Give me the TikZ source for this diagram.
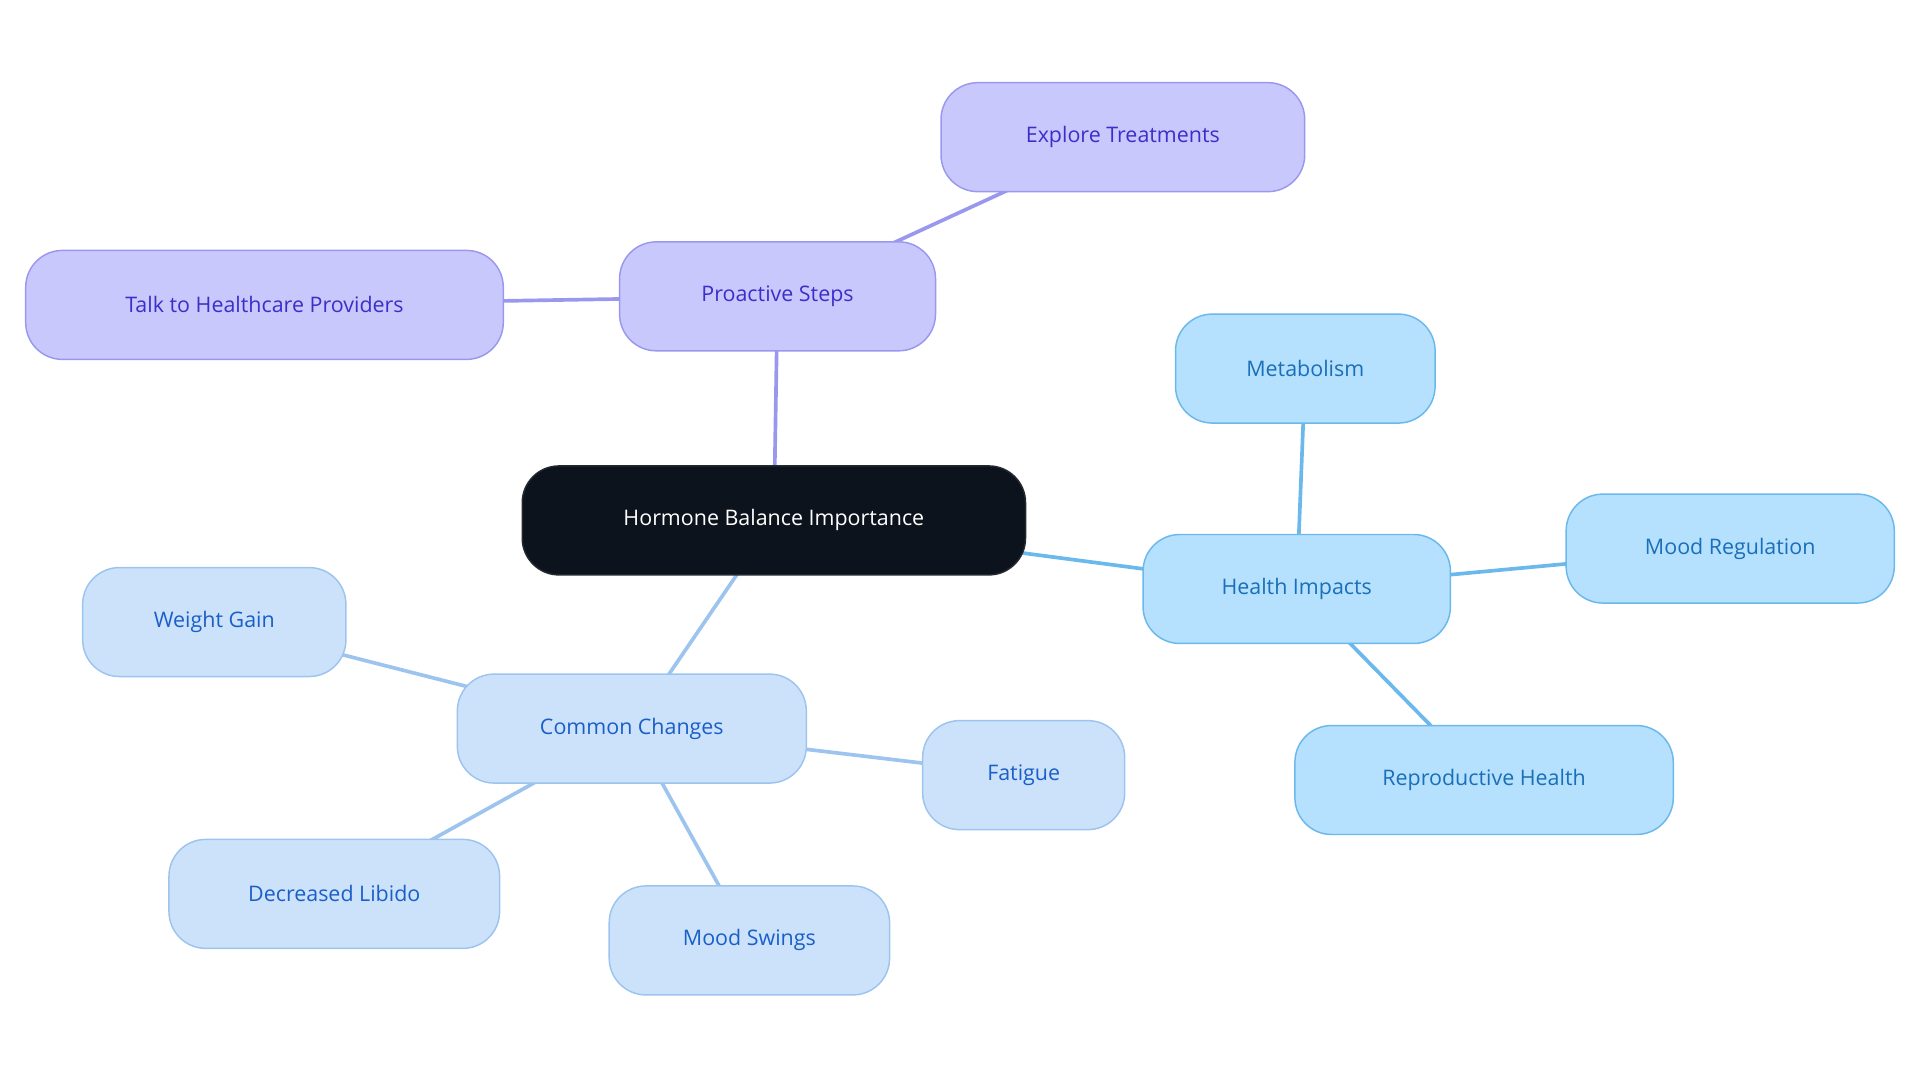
\documentclass[tikz,border=0pt]{standalone}
\usepackage{fontspec}
\setmainfont{Open Sans}
\usetikzlibrary{backgrounds}
\definecolor{rootfill}{HTML}{0D131C}
\definecolor{pfill}{HTML}{C9C8FD}\definecolor{pline}{HTML}{9A98EE}\definecolor{ptext}{HTML}{3B2FC9}
\definecolor{hfill}{HTML}{B5E0FE}\definecolor{hline}{HTML}{6BB8EC}\definecolor{htext}{HTML}{1A6FB8}
\definecolor{cfill}{HTML}{CCE2FB}\definecolor{cline}{HTML}{9DC4EE}\definecolor{ctext}{HTML}{1A5FC8}
\tikzset{
 pill/.style={rounded corners=30pt, minimum height=89pt, line width=1.2pt, font=\fontsize{17.5}{20}\selectfont, inner xsep=0pt},
 rootbox/.style={pill, fill=rootfill, draw=rootfill!80!gray, text=white},
 pbox/.style={pill, fill=pfill, draw=pline, text=ptext},
 hbox/.style={pill, fill=hfill, draw=hline, text=htext},
 cbox/.style={pill, fill=cfill, draw=cline, text=ctext},
 pedge/.style={draw=pline, line width=3pt},
 hedge/.style={draw=hline, line width=3pt},
 cedge/.style={draw=cline, line width=3pt},
}
\begin{document}
\begin{tikzpicture}[x=1pt,y=-1pt]
\useasboundingbox (0,0) rectangle (1568,884);
\node[rootbox, minimum width=411pt] (root) at (632,425) {Hormone Balance Importance};
\node[pbox, minimum width=258pt] (ps) at (635,242) {Proactive Steps};
\node[pbox, minimum width=297pt] (et) at (917,112) {Explore Treatments};
\node[pbox, minimum width=390pt] (th) at (216,249) {Talk to Healthcare Providers};
\node[hbox, minimum width=251pt] (hi) at (1059,481) {Health Impacts};
\node[hbox, minimum width=212pt] (me) at (1066,301) {Metabolism};
\node[hbox, minimum width=268pt] (mr) at (1413,448) {Mood Regulation};
\node[hbox, minimum width=309pt] (rh) at (1212,637) {Reproductive Health};
\node[cbox, minimum width=285pt] (cc) at (516,595) {Common Changes};
\node[cbox, minimum width=215pt] (wg) at (175,508) {Weight Gain};
\node[cbox, minimum width=165pt] (fa) at (836,633) {Fatigue};
\node[cbox, minimum width=270pt] (dl) at (273,730) {Decreased Libido};
\node[cbox, minimum width=229pt] (ms) at (612,768) {Mood Swings};
\begin{scope}[on background layer]
\draw[pedge] (root.center) -- (ps.center);
\draw[pedge] (ps.center) -- (et.center);
\draw[pedge] (ps.center) -- (th.center);
\draw[hedge] (root.center) -- (hi.center);
\draw[hedge] (hi.center) -- (me.center);
\draw[hedge] (hi.center) -- (mr.center);
\draw[hedge] (hi.center) -- (rh.center);
\draw[cedge] (root.center) -- (cc.center);
\draw[cedge] (cc.center) -- (wg.center);
\draw[cedge] (cc.center) -- (fa.center);
\draw[cedge] (cc.center) -- (dl.center);
\draw[cedge] (cc.center) -- (ms.center);
\end{scope}
\end{tikzpicture}
\end{document}
